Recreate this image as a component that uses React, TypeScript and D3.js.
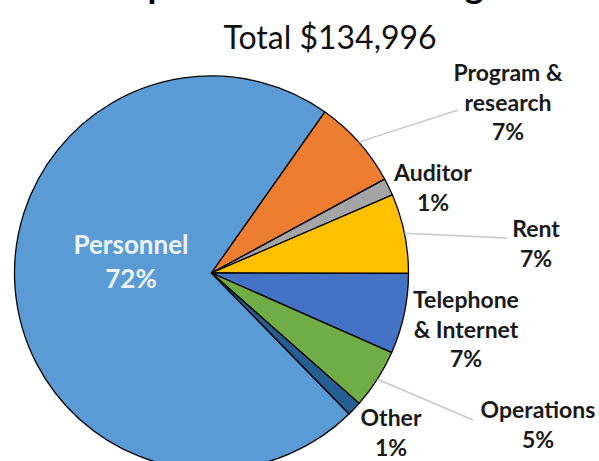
import React from 'react';
import * as d3 from 'd3';

const WIDTH = 599;
const HEIGHT = 461;

// chart data
const categories = ['Personnel', 'Program & research', 'Auditor', 'Rent', 'Telephone & Internet', 'Operations', 'Other'];
const amounts = [97296, 9900, 1900, 8800, 8900, 6600, 1600];
const colors = ['#5B9BD5', '#ED7D31', '#A5A5A5', '#FFC000', '#4472C4', '#70AD47', '#255E91'];
const labelLines = [['Personnel'], ['Program &', 'research'], ['Auditor'], ['Rent'], ['Telephone', '& Internet'], ['Operations'], ['Other']];

const titleText = 'Expenses of 2014 Budget';
const total = d3.sum(amounts);
const subtitleText = `Total ${d3.format('$,')(total)}`;

// label layout (x center, first baseline, leader end or null)
const labelLayout: {x: number; y: number; lead: number[] | null; inside?: boolean}[] = [
    {x: 131, y: 254, lead: null, inside: true},
    {x: 508, y: 81, lead: [458, 110]},
    {x: 433, y: 181, lead: null},
    {x: 536, y: 237, lead: [507, 238]},
    {x: 466, y: 308, lead: null},
    {x: 538, y: 418, lead: [473, 420]},
    {x: 391, y: 426, lead: null},
];

const cx = 211.5;
const cy = 273;
const radius = 197;
const startDeg = 135.7;

const FONT = 'Lato, "Open Sans", sans-serif';

const App = () => {
    const start = (startDeg * Math.PI) / 180;
    const pie = d3.pie<number>()
        .sort(null)
        .value(d => d)
        .startAngle(start)
        .endAngle(start + 2 * Math.PI);
    const arcs = pie(amounts);
    const arc = d3.arc<d3.PieArcDatum<number>>().innerRadius(0).outerRadius(radius);
    const pct = d3.format('.0%');

    return (
        <svg width={WIDTH} height={HEIGHT} style={{position: 'absolute', left: 0, top: 0, background: '#fff'}}>
            <text x={108} y={-2} fontFamily={FONT} fontWeight="bold" fontSize={36} fill="#000">{titleText}</text>
            <text x={330} y={49} textAnchor="middle" fontFamily={FONT} fontSize={32} fill="#111">{subtitleText}</text>

            <g transform={`translate(${cx},${cy})`}>
                {arcs.map((a, i) => (
                    <path key={categories[i]} d={arc(a) || ''} fill={colors[i]} stroke="#000" strokeWidth={1.3} strokeLinejoin="round" />
                ))}
            </g>

            {arcs.map((a, i) => {
                const lay = labelLayout[i];
                if (!lay.lead) return null;
                const mid = (a.startAngle + a.endAngle) / 2;
                const x1 = cx + radius * Math.sin(mid);
                const y1 = cy - radius * Math.cos(mid);
                return <line key={`lead-${i}`} x1={x1} y1={y1} x2={lay.lead[0]} y2={lay.lead[1]} stroke="#c8c8c8" strokeWidth={1.5} />;
            })}

            {arcs.map((a, i) => {
                const lay = labelLayout[i];
                const lines = [...labelLines[i], pct(amounts[i] / total)];
                const gap = lay.inside ? 34 : 29.5;
                return (
                    <text key={`lbl-${i}`} textAnchor="middle" fontFamily={FONT} fontWeight="bold"
                          fontSize={lay.inside ? 26 : 23} fill={lay.inside ? '#eef3fa' : '#1a1a1a'}>
                        {lines.map((t, j) => (
                            <tspan key={j} x={lay.x} y={lay.y + j * gap}>{t}</tspan>
                        ))}
                    </text>
                );
            })}
        </svg>
    );
};

export default App;
